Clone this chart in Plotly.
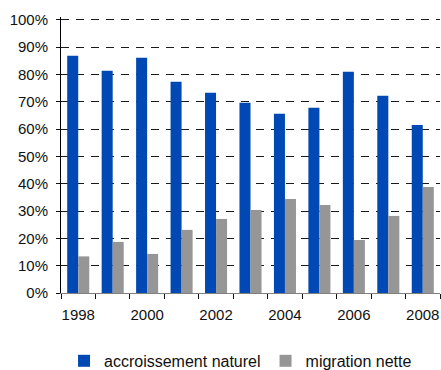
import plotly.graph_objects as go

# Share of population growth by component, in percent
years = ["1998", "1999", "2000", "2001", "2002", "2003", "2004", "2005", "2006", "2007", "2008"]
accroissement_naturel = [86.8, 81.3, 86.1, 77.3, 73.3, 69.6, 65.6, 67.8, 81.0, 72.2, 61.5]
migration_nette = [13.4, 18.7, 14.3, 23.1, 27.1, 30.4, 34.4, 32.2, 19.4, 28.2, 38.8]
year_labels = [y if int(y) % 2 == 0 else "" for y in years]
pct_values = list(range(0, 101, 10))
pct_labels = [f"{v}%" for v in pct_values]

BLUE = "#0049B4"
GRAY = "#969696"
FONT = "Liberation Sans, Arial, sans-serif"

fig = go.Figure()
fig.add_trace(go.Bar(x=years, y=accroissement_naturel, name="accroissement naturel",
                     marker=dict(color=BLUE, line=dict(width=0))))
fig.add_trace(go.Bar(x=years, y=migration_nette, name="migration nette",
                     marker=dict(color=GRAY, line=dict(width=0))))

fig.update_layout(
    width=441, height=370,
    margin=dict(l=61, r=1, t=17, b=77, autoexpand=False),
    paper_bgcolor="white", plot_bgcolor="white",
    font=dict(family=FONT, size=15, color="#111111"),
    barmode="group", bargap=0.36, bargroupgap=0,
    showlegend=True,
    legend=dict(orientation="h", x=0.008, xanchor="left",
                y=-0.246, yanchor="middle",
                font=dict(size=16), itemwidth=30, bgcolor="rgba(0,0,0,0)"),
)

fig.update_xaxes(
    type="category", tickmode="array", tickvals=years, ticktext=year_labels,
    tickson="boundaries", ticks="outside", ticklen=5, tickcolor="#111111",
    tickangle=0, automargin=False, ticklabelstandoff=8,
    showline=True, linecolor="#808080", linewidth=1,
    showgrid=False, zeroline=False, fixedrange=True,
)
fig.update_yaxes(
    range=[0, 101], tickmode="array", tickvals=pct_values, ticktext=pct_labels,
    automargin=False,
    ticks="outside", ticklen=4, tickcolor="#111111", ticklabelstandoff=5,
    showline=True, linecolor="#000000", linewidth=1,
    showgrid=True, gridcolor="#1a1a1a", gridwidth=1, griddash="8px,7px",
    zeroline=False, fixedrange=True,
)

fig.write_html("out.html")
